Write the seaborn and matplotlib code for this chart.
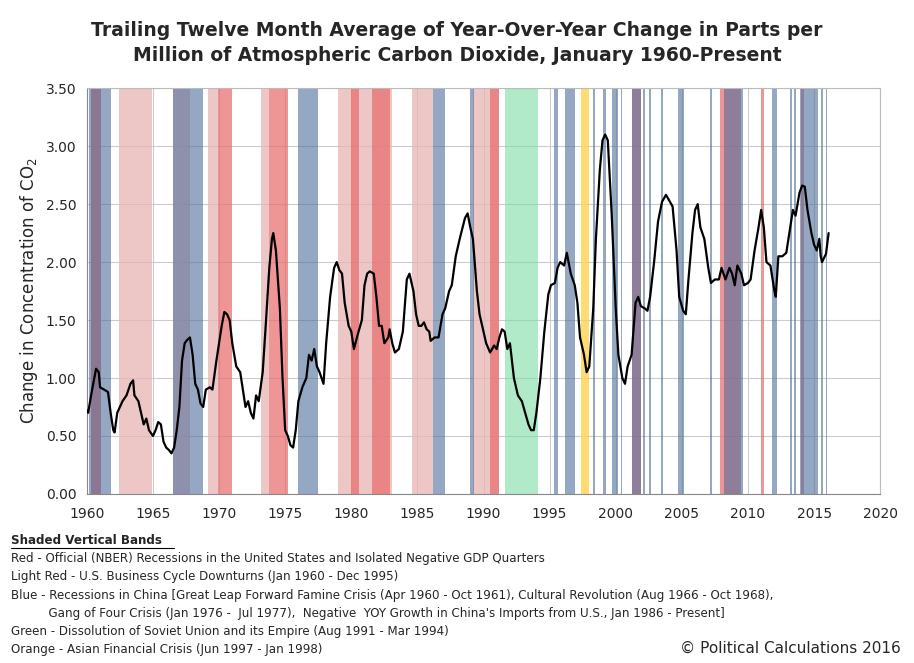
import numpy as np
import pandas as pd
import seaborn as sns
from matplotlib import pyplot as plt

# line data (decimal year, ppm change)
years = [1960.0, 1960.1, 1960.4, 1960.7, 1960.9, 1961.0, 1961.3, 1961.6, 1961.8, 1962.0, 1962.1, 1962.3, 1962.7, 1963.0, 1963.3, 1963.5, 1963.6, 1963.9, 1964.1, 1964.3, 1964.5, 1964.7, 1965.0, 1965.2, 1965.4, 1965.6, 1965.8, 1966.0, 1966.2, 1966.4, 1966.6, 1966.8, 1967.0, 1967.2, 1967.4, 1967.6, 1967.8, 1968.0, 1968.2, 1968.4, 1968.6, 1968.8, 1969.0, 1969.3, 1969.5, 1969.8, 1970.0, 1970.2, 1970.4, 1970.6, 1970.8, 1971.0, 1971.3, 1971.6, 1971.8, 1972.0, 1972.2, 1972.4, 1972.6, 1972.8, 1973.0, 1973.3, 1973.5, 1973.8, 1974.0, 1974.1, 1974.3, 1974.6, 1974.8, 1975.0, 1975.2, 1975.4, 1975.6, 1975.8, 1976.0, 1976.3, 1976.6, 1976.8, 1977.0, 1977.2, 1977.4, 1977.6, 1977.9, 1978.1, 1978.4, 1978.7, 1978.9, 1979.1, 1979.3, 1979.5, 1979.8, 1980.0, 1980.2, 1980.5, 1980.8, 1981.0, 1981.2, 1981.4, 1981.7, 1981.9, 1982.1, 1982.3, 1982.5, 1982.8, 1982.9, 1983.1, 1983.3, 1983.6, 1983.9, 1984.2, 1984.4, 1984.7, 1984.9, 1985.1, 1985.3, 1985.5, 1985.7, 1985.9, 1986.0, 1986.3, 1986.6, 1986.9, 1987.1, 1987.4, 1987.6, 1987.9, 1988.2, 1988.6, 1988.8, 1989.0, 1989.2, 1989.5, 1989.7, 1990.0, 1990.2, 1990.5, 1990.8, 1991.0, 1991.2, 1991.4, 1991.6, 1991.8, 1992.0, 1992.3, 1992.6, 1992.9, 1993.2, 1993.4, 1993.6, 1993.8, 1994.0, 1994.3, 1994.6, 1994.9, 1995.1, 1995.4, 1995.6, 1995.8, 1996.1, 1996.3, 1996.6, 1996.9, 1997.1, 1997.3, 1997.6, 1997.8, 1998.0, 1998.3, 1998.5, 1998.8, 1999.0, 1999.2, 1999.4, 1999.7, 2000.0, 2000.2, 2000.5, 2000.7, 2000.9, 2001.2, 2001.5, 2001.7, 2001.9, 2002.2, 2002.4, 2002.6, 2002.9, 2003.2, 2003.5, 2003.8, 2004.1, 2004.3, 2004.6, 2004.8, 2005.1, 2005.3, 2005.5, 2005.8, 2006.0, 2006.2, 2006.4, 2006.7, 2007.0, 2007.2, 2007.5, 2007.8, 2008.0, 2008.3, 2008.6, 2008.8, 2009.0, 2009.2, 2009.5, 2009.7, 2010.0, 2010.2, 2010.5, 2010.8, 2011.0, 2011.2, 2011.4, 2011.7, 2012.0, 2012.1, 2012.3, 2012.6, 2012.9, 2013.2, 2013.4, 2013.6, 2013.9, 2014.1, 2014.3, 2014.5, 2014.8, 2015.0, 2015.2, 2015.4, 2015.5, 2015.6, 2015.9, 2016.1]
values = [0.72, 0.70, 0.90, 1.08, 1.05, 0.92, 0.90, 0.88, 0.70, 0.55, 0.53, 0.70, 0.80, 0.85, 0.95, 0.98, 0.85, 0.80, 0.70, 0.60, 0.65, 0.55, 0.50, 0.55, 0.62, 0.60, 0.45, 0.40, 0.38, 0.35, 0.40, 0.55, 0.75, 1.15, 1.30, 1.33, 1.35, 1.20, 0.95, 0.90, 0.78, 0.75, 0.90, 0.92, 0.90, 1.15, 1.30, 1.45, 1.57, 1.55, 1.50, 1.30, 1.10, 1.05, 0.90, 0.75, 0.80, 0.70, 0.65, 0.85, 0.80, 1.05, 1.40, 1.95, 2.20, 2.25, 2.10, 1.60, 1.00, 0.55, 0.50, 0.42, 0.40, 0.55, 0.80, 0.92, 1.00, 1.20, 1.15, 1.25, 1.10, 1.05, 0.95, 1.30, 1.70, 1.95, 2.00, 1.93, 1.90, 1.65, 1.45, 1.40, 1.25, 1.38, 1.50, 1.80, 1.90, 1.92, 1.90, 1.70, 1.45, 1.45, 1.30, 1.35, 1.42, 1.30, 1.22, 1.25, 1.40, 1.85, 1.90, 1.75, 1.55, 1.45, 1.45, 1.48, 1.42, 1.40, 1.32, 1.35, 1.35, 1.55, 1.60, 1.75, 1.80, 2.05, 2.20, 2.38, 2.42, 2.30, 2.20, 1.75, 1.55, 1.40, 1.30, 1.22, 1.28, 1.25, 1.35, 1.42, 1.40, 1.25, 1.30, 1.00, 0.85, 0.80, 0.68, 0.60, 0.55, 0.55, 0.70, 1.00, 1.40, 1.72, 1.80, 1.82, 1.95, 2.00, 1.97, 2.08, 1.90, 1.80, 1.65, 1.35, 1.20, 1.05, 1.10, 1.60, 2.20, 2.80, 3.05, 3.10, 3.05, 2.40, 1.60, 1.20, 1.00, 0.95, 1.10, 1.20, 1.65, 1.70, 1.62, 1.60, 1.58, 1.70, 2.00, 2.35, 2.52, 2.58, 2.52, 2.48, 2.10, 1.70, 1.58, 1.55, 1.85, 2.25, 2.45, 2.50, 2.30, 2.20, 1.95, 1.82, 1.85, 1.85, 1.95, 1.85, 1.95, 1.90, 1.80, 1.97, 1.90, 1.80, 1.82, 1.85, 2.10, 2.30, 2.45, 2.30, 2.00, 1.97, 1.75, 1.70, 2.05, 2.05, 2.08, 2.30, 2.45, 2.40, 2.60, 2.66, 2.65, 2.45, 2.25, 2.15, 2.10, 2.20, 2.05, 2.00, 2.07, 2.25]

# shaded bands (start, end)
red_bands = [(1960.3, 1961.1), (1969.9, 1971.0), (1973.8, 1975.2), (1980.0, 1980.6), (1981.6, 1982.9),
             (1990.5, 1991.2), (2001.2, 2001.9), (2007.9, 2009.5), (2011.0, 2011.2), (2014.0, 2014.25)]
light_red_bands = [(1960.3, 1961.1), (1962.4, 1964.9), (1966.5, 1967.8), (1969.2, 1969.9), (1973.2, 1973.8),
                   (1979.0, 1983.1), (1984.6, 1986.2), (1989.2, 1991.2)]
blue_bands = [(1960.2, 1961.8), (1966.5, 1968.8), (1976.0, 1977.5), (1986.2, 1987.1), (1989.0, 1989.3),
              (1995.3, 1995.65), (1996.2, 1996.9), (1998.25, 1998.4), (1999.0, 1999.3), (1999.7, 2000.2),
              (2000.4, 2000.5), (2001.2, 2001.9), (2002.1, 2002.2), (2002.55, 2002.65), (2003.45, 2003.55),
              (2004.7, 2005.2), (2007.1, 2007.3), (2008.2, 2009.6), (2011.8, 2012.2), (2013.2, 2013.3),
              (2013.5, 2013.6), (2013.9, 2015.3), (2015.55, 2015.65), (2015.9, 2016.0)]
green_bands = [(1991.6, 1994.1)]
orange_bands = [(1997.4, 1998.0)]

legend_lines = [
    "Shaded Vertical Bands",
    "Red - Official (NBER) Recessions in the United States and Isolated Negative GDP Quarters",
    "Light Red - U.S. Business Cycle Downturns (Jan 1960 - Dec 1995)",
    "Blue - Recessions in China [Great Leap Forward Famine Crisis (Apr 1960 - Oct 1961), Cultural Revolution (Aug 1966 - Oct 1968),",
    "          Gang of Four Crisis (Jan 1976 -  Jul 1977),  Negative  YOY Growth in China's Imports from U.S., Jan 1986 - Present]",
    "Green - Dissolution of Soviet Union and its Empire (Aug 1991 - Mar 1994)",
    "Orange - Asian Financial Crisis (Jun 1997 - Jan 1998)",
]

sns.set_style("white")
plt.rcParams['font.family'] = ['DejaVu Sans']
fig = plt.figure(figsize=(9.14, 6.63), dpi=100)
ax = fig.add_axes([0.095, 0.255, 0.868, 0.612])

for a, b in light_red_bands:
    ax.axvspan(a, b, color='#e8b4b4', alpha=0.75, lw=0, zorder=1)
for a, b in red_bands:
    ax.axvspan(a, b, color='#e86a6a', alpha=0.7, lw=0, zorder=1)
for a, b in blue_bands:
    ax.axvspan(a, b, color='#4f6f9c', alpha=0.6, lw=0, zorder=1)
for a, b in green_bands:
    ax.axvspan(a, b, color='#7ddca6', alpha=0.6, lw=0, zorder=1)
for a, b in orange_bands:
    ax.axvspan(a, b, color='#ffd34d', alpha=0.8, lw=0, zorder=1)

df = pd.DataFrame({'year': years, 'value': values})
sns.lineplot(data=df, x='year', y='value', ax=ax, color='black', lw=1.6, zorder=3)

ax.set_xlim(1960, 2020)
ax.set_ylim(0, 3.5)
ax.set_xticks(range(1960, 2021, 5))
ax.set_xticks(np.arange(1960, 2021, 1), minor=True)
ax.set_yticks(np.arange(0, 3.51, 0.5))
ax.set_yticklabels([f"{v:.2f}" for v in np.arange(0, 3.51, 0.5)])
ax.grid(axis='both', which='major', color='#cccccc', lw=0.8, zorder=0)
ax.set_axisbelow(True)
ax.tick_params(axis='both', which='both', labelsize=10, direction='out', length=4, color='#888888')
ax.tick_params(axis='x', which='major', length=6)
ax.tick_params(axis='x', which='minor', length=4)
for s in ax.spines.values():
    s.set_color('#bbbbbb')
ax.spines['left'].set_color('#888888')
ax.spines['bottom'].set_color('#888888')
ax.set_xlabel('')
ax.set_ylabel('Change in Concentration of CO$_2$', fontsize=12)

fig.text(0.5, 0.935, "Trailing Twelve Month Average of Year-Over-Year Change in Parts per\nMillion of Atmospheric Carbon Dioxide, January 1960-Present",
         ha='center', va='center', fontsize=13.5, fontweight='bold', linespacing=1.4)

y0 = 0.185
for i, line in enumerate(legend_lines):
    t = fig.text(0.012, y0 - i * 0.0275, line, fontsize=8.6, va='center')
    if i == 0:
        t.set_fontweight('bold')
        t.set_text(line)
fig.add_artist(plt.Line2D([0.012, 0.19], [y0 - 0.011, y0 - 0.011], color='black', lw=0.8))
fig.text(0.985, 0.022, "© Political Calculations 2016", ha='right', va='center', fontsize=11)

plt.savefig('out.png', dpi=100)
